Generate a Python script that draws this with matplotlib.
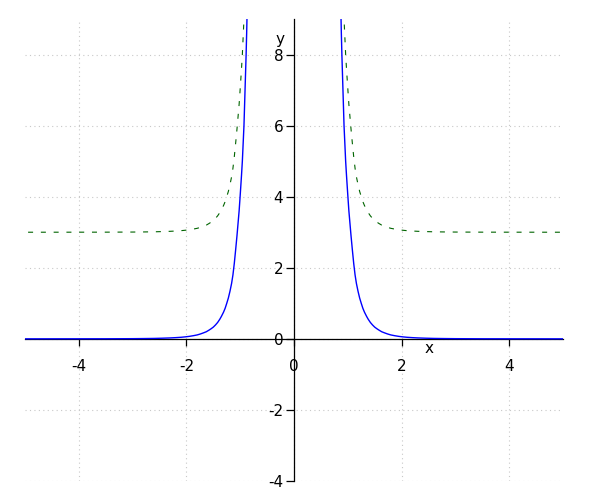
import matplotlib
matplotlib.use("Agg")
import matplotlib.pyplot as plt

# Valores (rama derecha; la izquierda es el espejo)
curva_x = [0.87, 0.88, 0.89, 0.90, 0.91, 0.92, 0.93, 0.945, 0.96, 0.975,
           0.99, 1.005, 1.02, 1.04, 1.06, 1.085, 1.11, 1.135, 1.16, 1.19,
           1.22, 1.25, 1.28, 1.31, 1.35, 1.38, 1.42, 1.46, 1.50, 1.54,
           1.58, 1.63, 1.68, 1.74, 1.80, 1.87, 1.95, 2.02, 2.10, 2.20,
           2.30, 2.45, 2.60, 2.80, 3.00, 3.50, 4.20, 5.00]
azul_y = [9.3, 8.6, 8.0, 7.5, 7.0, 6.5, 6.0, 5.5, 5.0, 4.62,
          4.27, 3.93, 3.6, 3.25, 2.9, 2.5, 2.12, 1.8, 1.56, 1.34,
          1.15, 1.0, 0.86, 0.75, 0.63, 0.55, 0.46, 0.39, 0.33, 0.285,
          0.245, 0.20, 0.17, 0.137, 0.11, 0.089, 0.069, 0.056, 0.044, 0.034,
          0.026, 0.018, 0.012, 0.008, 0.005, 0.002, 0.001, 0.0]
verde_y = [12.3, 11.6, 11.0, 10.5, 10.0, 9.5, 9.0, 8.5, 8.0, 7.62,
           7.27, 6.93, 6.6, 6.25, 5.9, 5.5, 5.12, 4.8, 4.56, 4.34,
           4.15, 4.0, 3.86, 3.75, 3.63, 3.55, 3.46, 3.39, 3.33, 3.285,
           3.245, 3.20, 3.17, 3.137, 3.11, 3.089, 3.069, 3.056, 3.044, 3.034,
           3.026, 3.018, 3.012, 3.008, 3.005, 3.002, 3.001, 3.0]

x_ticks = [-4, -2, 0, 2, 4]
y_ticks = [-4, -2, 0, 2, 4, 6, 8]

fig = plt.figure(figsize=(6, 5), dpi=100)
ax = fig.add_axes([25 / 600, 19 / 500, 538 / 600, 462 / 500])

# rama izquierda y derecha de cada curva
izq_x = [-v for v in curva_x]
ax.plot(izq_x, azul_y, color="blue", lw=1, zorder=3)
ax.plot(curva_x, azul_y, color="blue", lw=1, zorder=3)
ax.plot(izq_x, verde_y, color="#006400", lw=0.8, ls=(0, (4.5, 7)), zorder=3)
ax.plot(curva_x, verde_y, color="#006400", lw=0.8, ls=(0, (4.5, 7)), zorder=3)

ax.set_xlim(-5, 5)
ax.set_ylim(-4, 9)

# ejes cruzando en el origen
ax.spines["left"].set_position(("data", 0))
ax.spines["bottom"].set_position(("data", 0))
ax.spines["right"].set_visible(False)
ax.spines["top"].set_visible(False)
for s in ("left", "bottom"):
    ax.spines[s].set_linewidth(0.9)
    ax.spines[s].set_zorder(2.5)

ax.set_xticks(x_ticks)
ax.set_yticks(y_ticks)
ax.set_xticklabels([str(v) for v in x_ticks])
ax.set_yticklabels([str(v) for v in y_ticks])
ax.tick_params(axis="x", direction="out", length=5, width=0.9, pad=9.5, labelsize=11)
ax.tick_params(axis="y", direction="out", length=5.8, width=0.9, pad=2, labelsize=11)

ax.grid(True, color="#c8c8c8", lw=0.8, ls=(0, (1, 3)), zorder=0)

ax.text(2.51, -0.28, "x", fontsize=11, ha="center", va="center")
ax.text(-0.26, 8.43, "y", fontsize=11, ha="center", va="center")

fig.savefig("out.png", dpi=100)
